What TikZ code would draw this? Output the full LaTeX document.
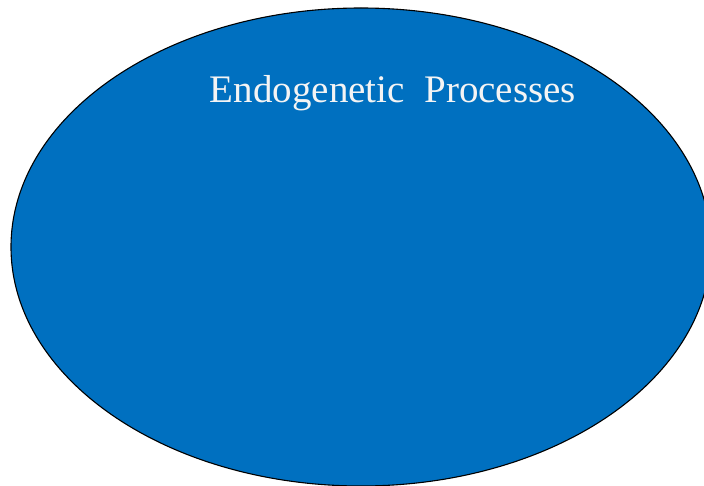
\documentclass[tikz,border=0pt]{standalone}
\usepackage{fontspec}
\setmainfont{Liberation Serif}
\usetikzlibrary{shapes.geometric}
\definecolor{procBlue}{HTML}{0070C0}
\definecolor{labelWhite}{HTML}{F4F4F4}

\begin{document}
\begin{tikzpicture}[x=1pt, y=-1pt]
    \useasboundingbox (0,0) rectangle (704,486);
    \clip (0,0) rectangle (704,486);
    \node[ellipse, draw=black, line width=1.1pt, fill=procBlue, inner sep=0pt,
          minimum width=700pt, minimum height=478pt] (endo) at (361,247) {};
    \node[anchor=base, text=labelWhite, font=\fontsize{39}{46}\selectfont] (title)
          at (393,103) {Endogenetic\ \ Processes};
\end{tikzpicture}
\end{document}
